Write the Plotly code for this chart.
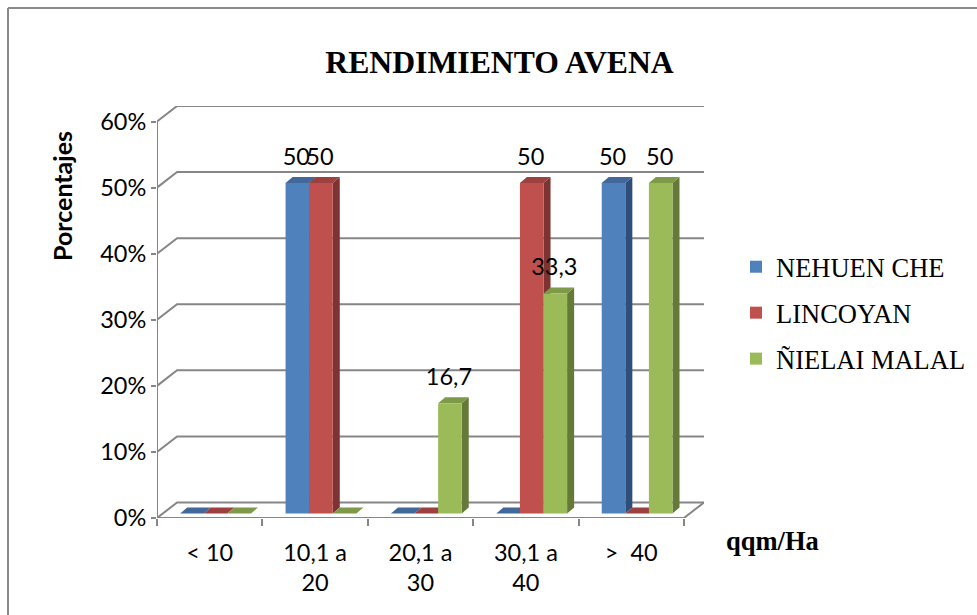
import plotly.graph_objects as go

categories = ["< 10", "10,1 a<br>20", "20,1 a<br>30", "30,1 a<br>40", ">  40"]
series_names = ["NEHUEN CHE", "LINCOYAN", "ÑIELAI MALAL"]
nehuen = [0, 50, 0, 0, 50]
lincoyan = [0, 50, 0, 50, 0]
nielai = [0, 0, 16.7, 33.3, 50]
series_values = [nehuen, lincoyan, nielai]
label_texts = [
    [None, "50", None, None, "50"],
    [None, "50", None, "50", None],
    [None, None, "16,7", "33,3", "50"],
]
front_colors = ["#4F81BD", "#C0504D", "#9BBB59"]
side_colors = ["#2F4F78", "#7D3331", "#657A39"]
top_colors = ["#41689B", "#9C413F", "#7E9A48"]
y_ticks = [0, 10, 20, 30, 40, 50, 60]
GRID = "#868686"

PX_X = 105.0   # pixels per category
PX_Y = 6.6     # pixels per percent
L, R, T, B = 157, 273, 106, 97
PW = 977 - L - R
PH = 615 - T - B
wall_dx = 20 / PX_X
wall_dy = 15.5 / PX_Y
bar_dx = 7 / PX_X
bar_dy = 6 / PX_Y
bar_base = 4.5 / PX_Y
bar_w = 23.5 / PX_X
group_left = -0.28
n = len(categories)

fig = go.Figure()

def line(xs, ys):
    fig.add_trace(go.Scatter(x=xs, y=ys, mode="lines", line=dict(color=GRID, width=2),
                             hoverinfo="skip", showlegend=False, cliponaxis=False,
                             xaxis="x", yaxis="y"))

# back wall and left wall
for t in y_ticks:
    line([-0.5, -0.5 + wall_dx, n - 0.5 + wall_dx], [t, t + wall_dy, t + wall_dy])
# floor front edge and right diagonal
line([-0.5, n - 0.5, n - 0.5 + wall_dx], [0, 0, wall_dy])

def poly(xs, ys, color):
    fig.add_trace(go.Scatter(x=xs, y=ys, mode="lines", fill="toself", fillcolor=color,
                             line=dict(width=0, color=color), hoverinfo="skip",
                             showlegend=False, cliponaxis=False, xaxis="x", yaxis="y"))

# depth faces, back to front, left to right
for c in range(n):
    for s, vals in enumerate(series_values):
        v = vals[c] + bar_base
        x0 = c + group_left + s * bar_w
        x1 = x0 + bar_w
        if vals[c] > 0:
            poly([x1, x1 + bar_dx, x1 + bar_dx, x1, x1],
                 [bar_base, bar_base + bar_dy, v + bar_dy, v, bar_base], side_colors[s])
        poly([x0, x1, x1 + bar_dx, x0 + bar_dx, x0],
             [v, v, v + bar_dy, v + bar_dy, v], top_colors[s])

# front faces on the overlaying category axis
for s, vals in enumerate(series_values):
    fig.add_trace(go.Bar(x=categories, y=vals, base=bar_base, name=series_names[s],
                         width=bar_w, offset=group_left + s * bar_w,
                         marker=dict(color=front_colors[s], line=dict(width=0)),
                         legendgroup=series_names[s], xaxis="x2", yaxis="y2"))

# data labels, on a numeric overlay so that they sit above the bars
for s, vals in enumerate(series_values):
    xs, ys, ts = [], [], []
    for c in range(n):
        if label_texts[s][c]:
            xs.append(c + group_left + (s + 0.5) * bar_w - 1 / PX_X)
            ys.append(vals[c] + bar_base + 24 / PX_Y)
            ts.append(label_texts[s][c])
    fig.add_trace(go.Scatter(x=xs, y=ys, text=ts, mode="text", textposition="middle center",
                             textfont=dict(family="Lato", size=23.5, color="#000000"),
                             hoverinfo="skip", showlegend=False, cliponaxis=False,
                             xaxis="x3", yaxis="y2"))

x_range = [-0.5, n - 0.5 + wall_dx]
y_range = [0, 60 + wall_dy]
tickfont = dict(family="Lato", size=23.5, color="#000000")

fig.update_layout(
    width=977, height=615, autosize=False,
    margin=dict(l=L, r=R, t=T, b=B, autoexpand=False),
    paper_bgcolor="white", plot_bgcolor="rgba(0,0,0,0)",
    barmode="overlay",
    title=dict(text="<b>RENDIMIENTO AVENA</b>", x=499.5 / 977, xanchor="center",
               y=1 - 62 / 615, yanchor="middle",
               font=dict(family="Liberation Serif", size=31.7, color="#000000")),
    xaxis=dict(range=x_range, tickmode="array",
               tickvals=[i - 0.5 for i in range(n + 1)], ticktext=[""] * (n + 1),
               ticks="outside", ticklen=7, tickwidth=2, tickcolor=GRID,
               showgrid=False, zeroline=False, showline=False),
    yaxis=dict(range=y_range, tickmode="array", tickvals=y_ticks,
               ticktext=[f"{t}%" for t in y_ticks], tickfont=tickfont,
               ticks="outside", ticklen=5, tickwidth=2, tickcolor=GRID,
               showgrid=False, zeroline=False, showline=False),
    xaxis2=dict(range=x_range, type="category", overlaying="x", anchor="y2",
                categoryorder="array", categoryarray=categories,
                tickfont=tickfont, ticks="", ticklen=0, ticklabelstandoff=18,
                showgrid=False, zeroline=False, showline=False),
    xaxis3=dict(range=x_range, overlaying="x", anchor="y2", showticklabels=False,
                ticks="", showgrid=False, zeroline=False, showline=False),
    yaxis2=dict(range=y_range, overlaying="y", anchor="x2", side="left",
                showticklabels=False, ticks="", showgrid=False, zeroline=False, showline=False),
    legend=dict(x=(736 - L) / PW, y=1 - (243 - T) / PH, xanchor="left", yanchor="top",
                font=dict(family="Liberation Serif", size=26.5, color="#000000"),
                tracegroupgap=8.5, bgcolor="rgba(0,0,0,0)", itemclick=False, itemdoubleclick=False),
    annotations=[
        dict(text="<b>Porcentajes</b>", xref="paper", yref="paper", showarrow=False,
             x=(62 - L) / PW, y=1 - (196 - T) / PH,
             xanchor="center", yanchor="middle", textangle=-90,
             font=dict(family="Lato", size=25, color="#000000")),
        dict(text="<b>qqm/Ha</b>", xref="paper", yref="paper", showarrow=False,
             x=(772 - L) / PW, y=1 - (541 - T) / PH,
             xanchor="center", yanchor="middle",
             font=dict(family="Liberation Serif", size=26.5, color="#000000")),
    ],
    shapes=[
        dict(type="line", xref="x", yref="y", x0=-0.5, x1=-0.5, y0=0, y1=60,
             line=dict(color=GRID, width=2), layer="below"),
        dict(type="line", xref="paper", yref="paper",
             x0=(8 - L) / PW, x1=(977 - L) / PW,
             y0=1 - (8 - T) / PH, y1=1 - (8 - T) / PH,
             line=dict(color="#8A8A8A", width=2), layer="below"),
        dict(type="line", xref="paper", yref="paper",
             x0=(8 - L) / PW, x1=(8 - L) / PW,
             y0=1 - (8 - T) / PH, y1=1 - (615 - T) / PH,
             line=dict(color="#8A8A8A", width=2), layer="below"),
    ],
)

fig.write_html("out.html", config={"displayModeBar": False},
               post_script="document.body.style.margin='0';document.body.style.overflow='hidden';")
